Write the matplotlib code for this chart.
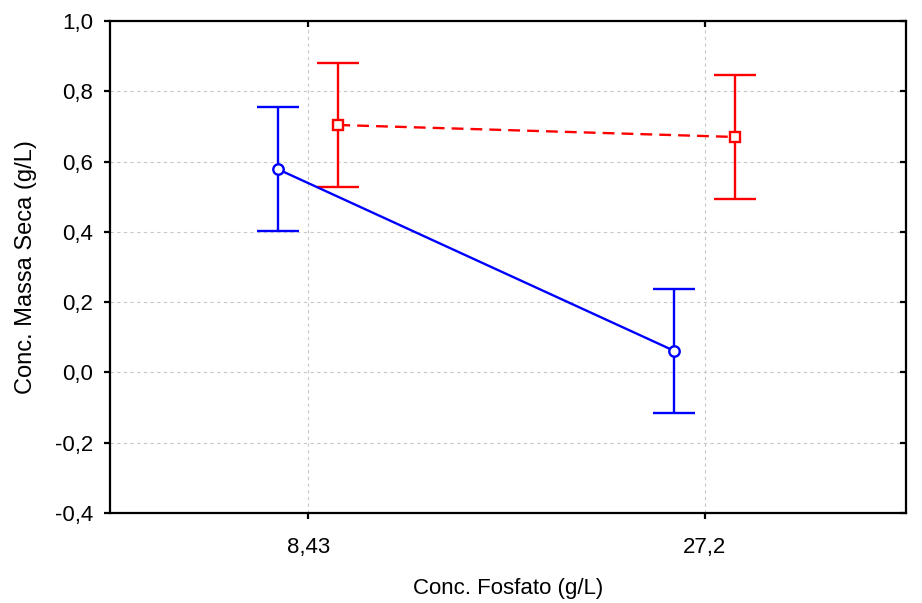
import numpy as np
import matplotlib
matplotlib.use("Agg")
import matplotlib.pyplot as plt
from matplotlib.ticker import FuncFormatter

plt.rcParams['font.family'] = ['Liberation Sans Narrow', 'Liberation Sans', 'DejaVu Sans']

# phosphate levels (x categories) and dry mass means with error half-widths
fosfato = ["8,43", "27,2"]
blue_mean = [0.578, 0.061]
blue_err = [0.177, 0.176]
red_mean = [0.704, 0.670]
red_err = [0.177, 0.177]

x = np.arange(len(fosfato))
offset = 0.076

fig = plt.figure(figsize=(9.22, 6.03), dpi=100)
ax = fig.add_axes([0.1193, 0.1493, 0.8633, 0.8159])

ax.errorbar(x - offset, blue_mean, yerr=blue_err, color='#0000ff', lw=1.7,
            marker='o', ms=7.5, mfc='white', mec='#0000ff', mew=1.7,
            capsize=15, capthick=1.7, zorder=3)
ax.errorbar(x + offset, red_mean, yerr=red_err, color='#ff0000', lw=1.7,
            ls=(0, (5, 3)), marker='s', ms=7, mfc='white', mec='#ff0000',
            mew=1.7, capsize=15, capthick=1.7, zorder=3)

ax.set_xlim(-0.5, 1.508)
ax.set_ylim(-0.4, 1.0)
ax.set_xticks(x)
ax.set_xticklabels(fosfato)
ax.set_yticks(np.arange(-0.4, 1.01, 0.2))
ax.yaxis.set_major_formatter(FuncFormatter(lambda v, p: f"{v:.1f}".replace('.', ',').replace('-0,0', '0,0')))

ax.grid(True, color='#c8c8c8', lw=0.8, ls=(0, (3, 3)))
ax.set_axisbelow(True)

for s in ax.spines.values():
    s.set_linewidth(1.6)
    s.set_color('black')

ax.tick_params(axis='both', which='major', labelsize=16, width=1.6, length=4,
               direction='out', colors='black', top=True, right=True)
ax.tick_params(axis='y', pad=8)
ax.tick_params(axis='x', pad=13)

# ticks on the top and right spines point inwards
for t in ax.xaxis.get_major_ticks():
    t.tick2line.set_marker(3)
    t.tick2line.set_markersize(4)
for t in ax.yaxis.get_major_ticks():
    t.tick2line.set_marker(0)
    t.tick2line.set_markersize(4)

ax.set_xlabel("Conc. Fosfato (g/L)", fontsize=16, labelpad=15)
ax.set_ylabel("Conc. Massa Seca (g/L)", fontsize=17, labelpad=13)

fig.savefig("out.png", dpi=100)
